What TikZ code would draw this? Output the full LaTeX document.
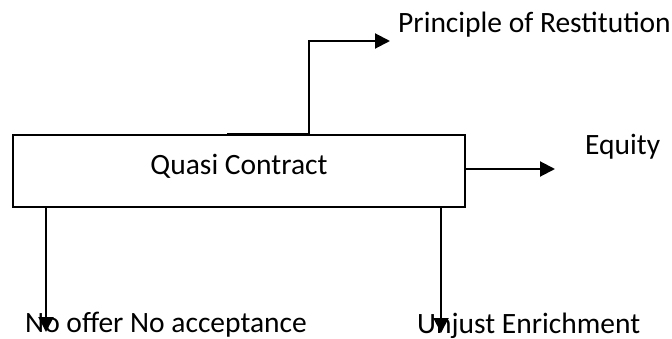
\documentclass[tikz,border=0pt]{standalone}
\usepackage{fontspec}
\setmainfont{Carlito}
\usetikzlibrary{arrows.meta, positioning}

\begin{document}
\begin{tikzpicture}[
  x=1pt, y=-1pt,
  font=\fontsize{29.5}{35}\selectfont,
  qbox/.style={rectangle, draw, line width=2pt, minimum width=452pt, minimum height=72pt, text height=20pt, text depth=12pt, inner sep=0pt},
  lbl/.style={inner sep=0pt, anchor=base west},
  conn/.style={line width=2pt, -{Triangle[length=15pt, width=15pt]}},
]
  \useasboundingbox (0,0) rectangle (672,339);

  \node[qbox] (qc) at (239,171) {Quasi Contract};

  \node[lbl] (pr) at (398,33) {Principle of Restitution};
  \node[lbl] (eq) at (585,155) {Equity};
  \node[lbl] (nol) at (25,332) {No offer No acceptance};
  \node[lbl] (ue) at (417,333) {Unjust Enrichment};

  % up and over to the top label
  \draw[conn] ([xshift=-12pt]qc.north) -- ([xshift=70pt]qc.north) |- ([shift={(-8pt,-8pt)}]pr.base west);
  \draw[conn] ([yshift=2pt]qc.east) -- ([shift={(89pt,2pt)}]qc.east);

  % down to the bottom labels
  \draw[conn] ([xshift=34pt]qc.south west) -- ([xshift=34pt]qc.south west |- nol.base);
  \draw[conn] ([xshift=-25pt]qc.south east) -- ([xshift=-25pt]qc.south east |- ue.base);
\end{tikzpicture}
\end{document}
